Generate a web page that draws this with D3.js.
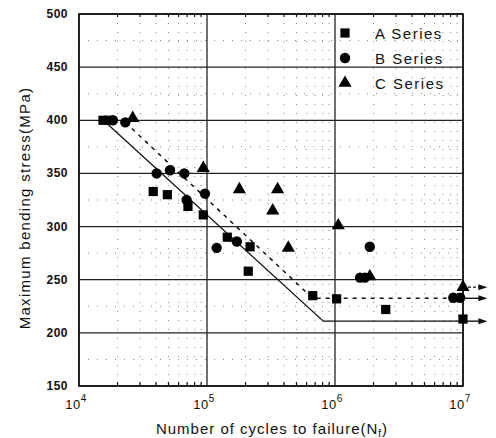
<!DOCTYPE html>
<html><head><meta charset="utf-8">
<script src="https://cdn.jsdelivr.net/npm/d3@7/dist/d3.min.js"></script>
<style>body{margin:0;background:#fff}svg{display:block}text{font-family:"Liberation Sans",Arial,sans-serif;fill:#111}</style>
</head><body><svg id="c" width="496" height="438"></svg>
<script>
// ---- data ----
const aCycles = [1.54e4, 1.71e4, 3.8e4, 4.9e4, 7.1e4, 9.35e4, 1.44e5, 2.17e5, 2.1e5, 6.7e5, 1.03e6, 2.49e6, 1e7];
const aStress = [400, 400, 333, 330, 319, 311, 290, 281, 258, 235, 232, 222, 213];
const bCycles = [1.84e4, 2.3e4, 4.04e4, 5.14e4, 6.65e4, 6.93e4, 9.64e4, 1.19e5, 1.71e5, 1.57e6, 1.71e6, 1.87e6, 8.4e6, 9.5e6];
const bStress = [400, 398, 350, 353, 350, 325, 331, 280, 286, 252, 252, 281, 233, 233];
const cCycles = [2.63e4, 9.35e4, 1.79e5, 3.26e5, 3.56e5, 4.32e5, 1.06e6, 1.87e6, 1e7];
const cStress = [402, 355, 335, 315, 335, 280, 301, 253, 243];
const solidFitCycles = [1.55e4, 8.1e5, 1e7];
const solidFitStress = [400, 211, 211];
const dashFitCycles = [2.3e4, 6.7e5, 1e7];
const dashFitStress = [398, 232.5, 232.5];
const runoutEnd = 1.55e7;
const runoutStress = [243, 232.5, 211];
const runoutStyle = ["short", "solid", "solid"];
const yTicks = [150, 200, 250, 300, 350, 400, 450, 500];
const xTicks = [1e4, 1e5, 1e6, 1e7];
const seriesNames = ["A Series", "B Series", "C Series"];

// ---- layout ----
const svg = d3.select("#c");
const x = d3.scaleLog().domain([1e4, 1e7]).range([79, 463]);
const y = d3.scaleLinear().domain([150, 500]).range([386, 14]);
const [x0, x1] = x.range(), [y0, y1] = y.range();

// minor grid (dotted)
const minorX = [];
[1e4, 1e5, 1e6].forEach(d => { for (let k = 2; k <= 9; k++) minorX.push(d * k); });
const minorY = d3.range(175, 500, 50);
const g = svg.append("g");
g.selectAll(".mx").data(minorX).join("line")
  .attr("x1", d => x(d)).attr("x2", d => x(d)).attr("y1", y1).attr("y2", y0)
  .attr("stroke", "#888").attr("stroke-width", 1).attr("stroke-dasharray", "1,8");
g.selectAll(".my").data(minorY).join("line")
  .attr("x1", x0).attr("x2", x1).attr("y1", d => y(d)).attr("y2", d => y(d))
  .attr("stroke", "#888").attr("stroke-width", 1).attr("stroke-dasharray", "1,8");

// major grid
g.selectAll(".Mx").data(xTicks).join("line")
  .attr("x1", d => x(d)).attr("x2", d => x(d)).attr("y1", y1).attr("y2", y0)
  .attr("stroke", "#222").attr("stroke-width", 1.3);
g.selectAll(".My").data(yTicks).join("line")
  .attr("x1", x0).attr("x2", x1).attr("y1", d => y(d)).attr("y2", d => y(d))
  .attr("stroke", "#222").attr("stroke-width", 1.3);

// minor ticks on top/bottom
g.selectAll(".tb").data(minorX).join("line")
  .attr("x1", d => x(d)).attr("x2", d => x(d)).attr("y1", y0).attr("y2", y0 - 4)
  .attr("stroke", "#111").attr("stroke-width", 1.2);
g.selectAll(".tt").data(minorX).join("line")
  .attr("x1", d => x(d)).attr("x2", d => x(d)).attr("y1", y1).attr("y2", y1 + 3)
  .attr("stroke", "#111").attr("stroke-width", 1.2);

// frame
svg.append("rect").attr("x", x0).attr("y", y1).attr("width", x1 - x0).attr("height", y0 - y1)
  .attr("fill", "none").attr("stroke", "#111").attr("stroke-width", 1.6);

// y tick labels
svg.selectAll(".yl").data(yTicks).join("text")
  .attr("x", 68).attr("y", d => y(d) + 4).attr("text-anchor", "end")
  .attr("font-size", 12).attr("font-weight", "bold").attr("letter-spacing", 0.5).text(d => d);

// x tick labels
const xl = svg.selectAll(".xl").data(xTicks).join("text")
  .attr("x", d => x(d) - 3).attr("y", 409).attr("text-anchor", "middle").attr("font-size", 13)
  .attr("letter-spacing", 0.5);
xl.append("tspan").text("10");
xl.append("tspan").attr("dy", -7).attr("font-size", 10).text(d => Math.round(Math.log10(d)));

// axis titles
svg.append("text").attr("transform", "translate(30,208) rotate(-90)").attr("text-anchor", "middle")
  .attr("font-size", 15).attr("letter-spacing", 1.3).text("Maximum bending stress(MPa)");
const xt = svg.append("text").attr("x", 272).attr("y", 434).attr("text-anchor", "middle")
  .attr("font-size", 15).attr("letter-spacing", 1);
xt.append("tspan").text("Number of cycles to failure(N");
xt.append("tspan").attr("font-size", 10).attr("dy", 3).text("f");
xt.append("tspan").attr("dy", -3).text(")");

// fit lines
const line = d3.line().x(d => x(d[0])).y(d => y(d[1]));
svg.append("path").attr("d", line(d3.zip(solidFitCycles, solidFitStress)))
  .attr("fill", "none").attr("stroke", "#111").attr("stroke-width", 1.3);
svg.append("path").attr("d", line(d3.zip(dashFitCycles, dashFitStress)))
  .attr("fill", "none").attr("stroke", "#111").attr("stroke-width", 1.5).attr("stroke-dasharray", "4,5");

// run-out arrows
runoutStress.forEach((s, i) => {
  const xa = x(1e7), xb = x(runoutEnd), yy = y(s);
  svg.append("line").attr("x1", xa).attr("x2", xb - 6).attr("y1", yy).attr("y2", yy)
    .attr("stroke", "#111").attr("stroke-width", 1.4)
    .attr("stroke-dasharray", runoutStyle[i] === "short" ? "3,2" : null);
  svg.append("path").attr("d", `M${xb},${yy} L${xb - 9},${yy - 3} L${xb - 9},${yy + 3} Z`).attr("fill", "#111");
});

// markers
const sq = d3.symbol().type(d3.symbolSquare).size(85);
const ci = d3.symbol().type(d3.symbolCircle).size(85);
const tr = d3.symbol().type(d3.symbolTriangle).size(75);
function drawSeries(cyc, st, sym) {
  svg.append("g").selectAll("path").data(d3.zip(cyc, st)).join("path")
    .attr("transform", d => `translate(${x(d[0])},${y(d[1])})`)
    .attr("d", sym).attr("fill", "#000");
}
drawSeries(aCycles, aStress, sq);
drawSeries(bCycles, bStress, ci);
drawSeries(cCycles, cStress, tr);

// legend
const syms = [sq, ci, tr];
const lg = svg.append("g");
seriesNames.forEach((n, i) => {
  const yy = 34 + i * 25;
  lg.append("path").attr("transform", `translate(345,${yy - 1})`).attr("d", syms[i]).attr("fill", "#000");
  lg.append("text").attr("x", 375).attr("y", yy + 5).attr("font-size", 15).attr("letter-spacing", 1.5).text(n);
});
</script></body></html>
